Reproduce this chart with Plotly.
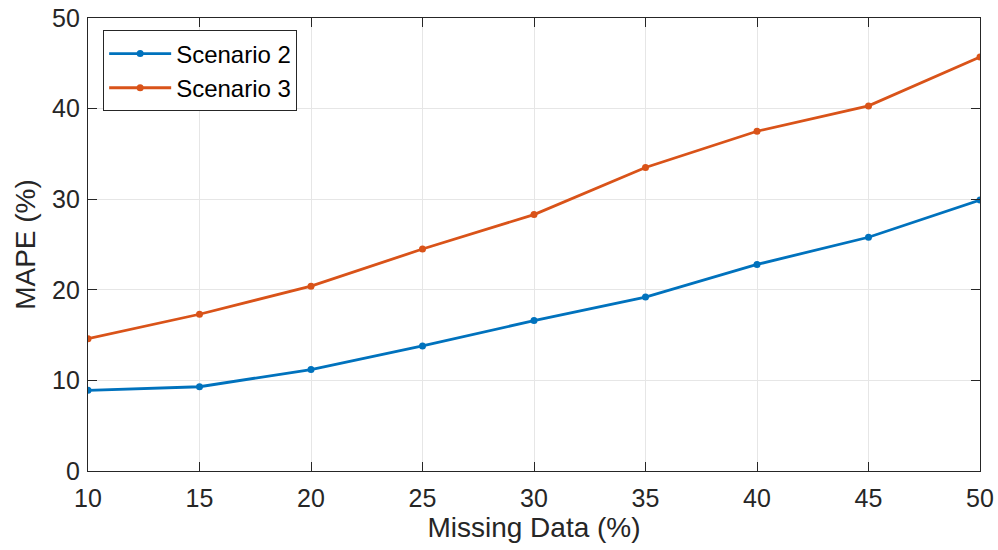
import plotly.graph_objects as go

missing_pct = [10, 15, 20, 25, 30, 35, 40, 45, 50]
mape_scenario2 = [8.9, 9.3, 11.2, 13.8, 16.6, 19.2, 22.8, 25.8, 29.9]
mape_scenario3 = [14.6, 17.3, 20.4, 24.5, 28.3, 33.5, 37.5, 40.3, 45.7]

x_ticks = [10, 15, 20, 25, 30, 35, 40, 45, 50]
y_ticks = [0, 10, 20, 30, 40, 50]

FONT = "Liberation Sans, Arial, Helvetica, sans-serif"
INK = "#262626"

fig = go.Figure()
fig.add_trace(go.Scatter(
    x=missing_pct, y=mape_scenario2, name="Scenario 2",
    mode="lines+markers",
    line=dict(color="#0072BD", width=2.8),
    marker=dict(size=7, color="#0072BD"),
))
fig.add_trace(go.Scatter(
    x=missing_pct, y=mape_scenario3, name="Scenario 3",
    mode="lines+markers",
    line=dict(color="#D95319", width=2.8),
    marker=dict(size=7, color="#D95319"),
))

axis_common = dict(
    showline=True, linecolor=INK, linewidth=1.2, mirror="allticks",
    ticks="inside", ticklen=9, tickcolor=INK, tickwidth=1,
    showgrid=True, gridcolor="#e6e6e6", gridwidth=1,
    zeroline=False, automargin=False,
    tickfont=dict(family=FONT, size=25, color=INK),
)

fig.update_layout(
    width=998, height=550,
    margin=dict(l=87.5, r=17.5, t=17.5, b=78.5),
    paper_bgcolor="white", plot_bgcolor="white",
    font=dict(family=FONT, color=INK),
    xaxis=dict(
        range=[10, 50], tickvals=x_ticks, ticklabelstandoff=5,
        title=dict(text="Missing Data (%)", font=dict(size=28, color=INK), standoff=6),
        **axis_common,
    ),
    yaxis=dict(
        range=[0, 50], tickvals=y_ticks, ticklabelstandoff=2,
        title=dict(text="MAPE (%)", font=dict(size=28, color=INK), standoff=8),
        **axis_common,
    ),
    legend=dict(
        x=0.017, y=0.9725, xanchor="left", yanchor="top",
        bgcolor="white", bordercolor=INK, borderwidth=1,
        font=dict(size=24, color="#000000"),
        tracegroupgap=0, itemwidth=62,
    ),
    showlegend=True,
)

fig.write_html("out.html")
